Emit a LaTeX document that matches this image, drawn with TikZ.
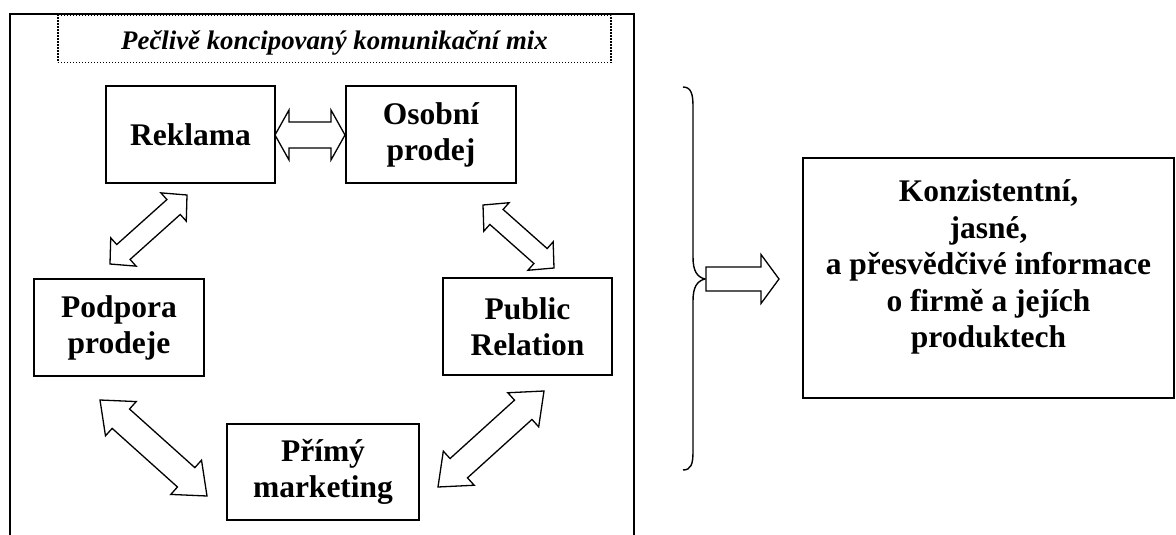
\documentclass[tikz,border=0pt]{standalone}
\usepackage{fontspec}
\setmainfont{Liberation Serif}
\usetikzlibrary{calc}
\tikzset{
  box/.style={draw, line width=1.6pt, align=center, inner sep=0pt,
    font=\bfseries\fontsize{31.5}{36}\selectfont},
  boxtext/.style={align=center, inner sep=0pt,
    font=\bfseries\fontsize{31.5}{36.5}\selectfont},
  titlebox/.style={draw, line width=1.2pt, dash pattern=on 1.2pt off 1.8pt, inner sep=0pt},
  titletext/.style={inner sep=0pt, font=\bfseries\itshape\fontsize{26.8}{30}\selectfont},
  framestyle/.style={line width=1.8pt},
  bracestyle/.style={line width=1.4pt},
  arrowbody/.style={draw, line width=1.3pt, line join=miter, fill=white},
}
\newcommand\dblarr[5]{%
  \draw[arrowbody] (#1)
   -- ($(#1)!#5!(#2)!#4!90:(#2)$)
   -- ($(#1)!#5!(#2)!#3!90:(#2)$)
   -- ($(#2)!#5!(#1)!#3!-90:(#1)$)
   -- ($(#2)!#5!(#1)!#4!-90:(#1)$)
   -- (#2)
   -- ($(#2)!#5!(#1)!#4!90:(#1)$)
   -- ($(#2)!#5!(#1)!#3!90:(#1)$)
   -- ($(#1)!#5!(#2)!#3!-90:(#2)$)
   -- ($(#1)!#5!(#2)!#4!-90:(#2)$)
   -- cycle;}
\newcommand\sglarr[5]{%
  \draw[arrowbody] ($(#1)!#3!90:(#2)$)
   -- ($(#2)!#5!(#1)!#3!-90:(#1)$)
   -- ($(#2)!#5!(#1)!#4!-90:(#1)$)
   -- (#2)
   -- ($(#2)!#5!(#1)!#4!90:(#1)$)
   -- ($(#2)!#5!(#1)!#3!90:(#1)$)
   -- ($(#1)!#3!-90:(#2)$)
   -- cycle;}
\begin{document}
\begin{tikzpicture}[x=1pt,y=-1pt]
\useasboundingbox (0,0) rectangle (1176,535);
% outer frame
\draw[framestyle] (10,535) -- (10,14) -- (634,14) -- (634,535);
% title
\node[titlebox, minimum width=553pt, minimum height=47pt] (title) at (334.5,39) {};
\node[titletext, anchor=base] (titletxt) at (334.5,50) {Pečlivě koncipovaný komunikační mix};
% boxes
\node[box, minimum width=169pt, minimum height=97pt] (rek) at (190.5,134.5) {Reklama};
\node[box, minimum width=170pt, minimum height=97pt] (oso) at (431,134.5) {Osobní\\prodej};
\node[box, minimum width=170pt, minimum height=97pt] (pod) at (119,327.5) {Podpora\\prodeje};
\node[box, minimum width=169pt, minimum height=97pt] (pub) at (527.5,326.5) {Public\\Relation};
\node[box, minimum width=192pt, minimum height=96pt] (pri) at (323,472) {Přímý\\marketing};
\node[box, minimum width=371pt, minimum height=240pt] (res) at (988.5,278) {};
\node[boxtext] (restxt) at ($(res.center)+(0,-11)$) {Konzistentní,\\jasné,\\a přesvědčivé informace\\o firmě a jejích\\produktech};
% arrow tips
\coordinate (a1) at (275,135); \coordinate (a2) at (345,135);
\coordinate (b1) at (187,195); \coordinate (b2) at (110,264);
\coordinate (c1) at (483,205); \coordinate (c2) at (554,268);
\coordinate (d1) at (100,400); \coordinate (d2) at (207,496);
\coordinate (e1) at (544,391); \coordinate (e2) at (438,487);
\dblarr{a1}{a2}{13pt}{25pt}{14pt}
\dblarr{b1}{b2}{10pt}{19pt}{18pt}
\dblarr{c1}{c2}{10pt}{19pt}{18pt}
\dblarr{d1}{d2}{13pt}{23pt}{28pt}
\dblarr{e1}{e2}{13pt}{23pt}{28pt}
% brace
\coordinate (bracetip) at (705,279);
\draw[bracestyle] (683,87) .. controls (691,87) and (693,94) .. (693,106) -- (693,257)
  .. controls (693,271) and (697,277) .. (bracetip)
  .. controls (697,281) and (693,287) .. (693,301) -- (693,452)
  .. controls (693,464) and (691,470) .. (683,470);
\coordinate (arrtail) at (706,279);
\coordinate (arrtip) at (779,279);
\sglarr{arrtail}{arrtip}{12pt}{24.5pt}{18pt}
\end{tikzpicture}
\end{document}
